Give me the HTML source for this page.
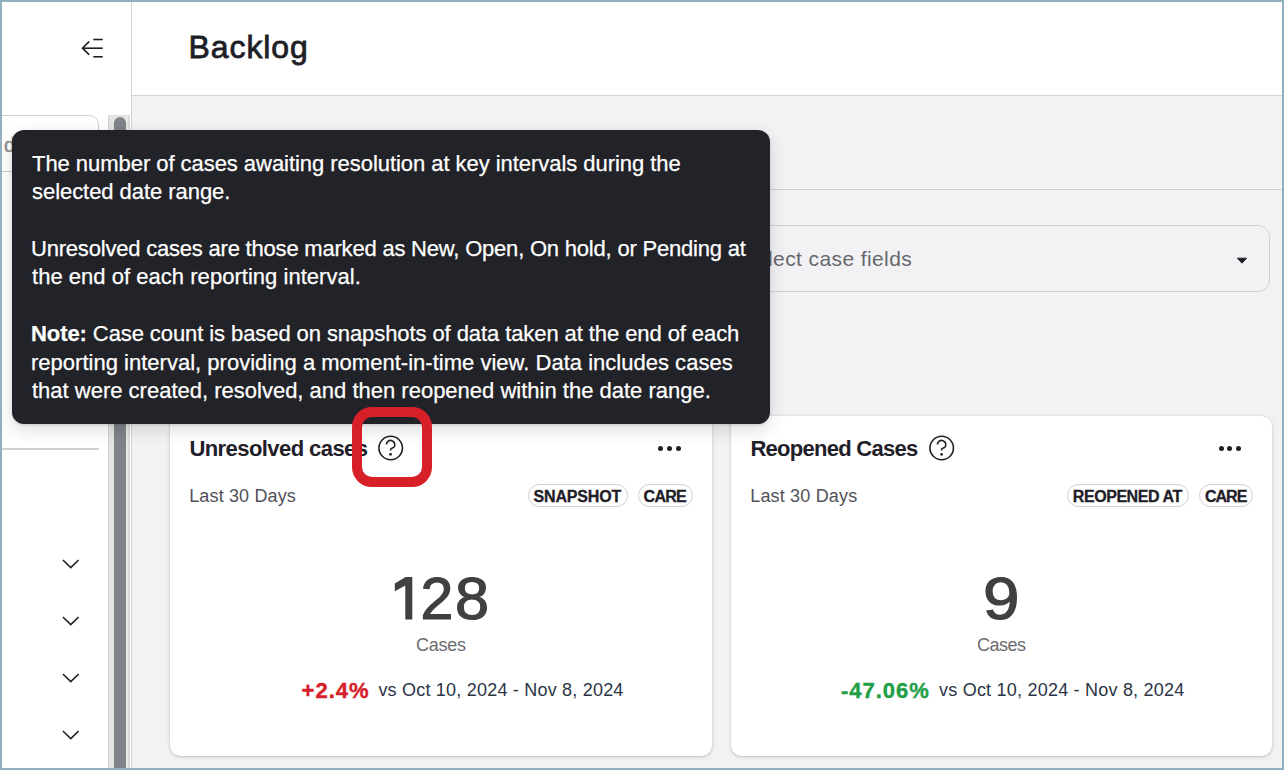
<!DOCTYPE html><html><head><meta charset="utf-8">
<style>
*{margin:0;padding:0;box-sizing:border-box}
html,body{width:1284px;height:770px;overflow:hidden;background:#fff}
body{font-family:"Liberation Sans",sans-serif;position:relative}
.abs{position:absolute}
.frame{position:absolute;left:0;top:0;width:1284px;height:770px;border:2px solid #92afbf;z-index:50;pointer-events:none}
.sidebar{left:2px;top:2px;width:129px;height:766px;background:#fff}
.sbborder{left:131px;top:2px;width:1px;height:766px;background:#d2d2d2}
.header{left:132px;top:2px;width:1150px;height:93px;background:#fff}
.hborder{left:132px;top:95px;width:1150px;height:1px;background:#d4d4d6}
.content{left:132px;top:96px;width:1150px;height:672px;background:#f2f2f4}
.title{left:189px;top:26.5px;font-size:32px;color:#1e1f26;white-space:nowrap;line-height:40px;-webkit-text-stroke:0.8px #1e1f26}
.tabline{left:132px;top:189px;width:1150px;height:1px;background:#cdcdcf}
.select{left:600px;top:225px;width:670px;height:67px;border:1px solid #d0d0d2;border-radius:12px;background:#f2f2f4}
.selecttext{left:741.5px;top:246px;font-size:21px;color:#66676c;white-space:nowrap;line-height:26px;letter-spacing:0.4px}
.card{top:416px;width:541.5px;height:340px;background:#fff;border-radius:10px;box-shadow:0 0 1px rgba(0,0,0,.18),0 1px 2px rgba(0,0,0,.1),0 1px 5px rgba(0,0,0,.1)}
.ctitle{font-size:22px;font-weight:bold;color:#1f2027;white-space:nowrap;line-height:24px}
.sub{font-size:18px;color:#505159;white-space:nowrap;line-height:22px}
.tag{height:23px;border:1px solid #cfcfd2;border-radius:12px}
.tagt{font-size:16px;font-weight:bold;color:#1f2027;line-height:20px;white-space:nowrap;-webkit-text-stroke:0.3px #1f2027}
.big{font-size:59px;color:#404040;white-space:nowrap;line-height:60px;-webkit-text-stroke:1.2px #404040}
.cases{font-size:18px;color:#6b6b6e;white-space:nowrap;line-height:20px}
.pct{font-size:22px;font-weight:bold;white-space:nowrap;line-height:22px;-webkit-text-stroke:0.4px currentColor}
.vs{font-size:18px;color:#2b3445;white-space:nowrap;line-height:22px}
.dot{width:5px;height:5px;border-radius:50%;background:#1f2027}
.tooltip{left:12px;top:130px;width:758px;height:294px;background:#222328;border-radius:12px;box-shadow:0 1px 3px rgba(0,0,0,.12),0 6px 18px rgba(0,0,0,.13);z-index:10}
.tl{position:absolute;left:19px;font-size:22px;color:#fff;white-space:nowrap;line-height:28px;-webkit-text-stroke:0.25px #fff}
.chev{left:61.5px;width:17.5px;height:10px}
</style></head><body>
<div class="abs sidebar"></div>
<div class="abs sbborder"></div>
<div class="abs header"></div>
<div class="abs hborder"></div>
<div class="abs content"></div>

<!-- sidebar collapse icon -->
<svg class="abs" style="left:78px;top:36px" width="28" height="24" viewBox="78 36 28 24">
 <g stroke="#1e1f26" stroke-width="1.6" fill="none" stroke-linecap="round" stroke-linejoin="round">
  <path d="M93.3 39.5H102.7" stroke-linecap="butt"></path><path d="M82.5 48.2H102.7" stroke-linecap="butt"></path><path d="M93.3 56.8H102.7" stroke-linecap="butt"></path>
  <path d="M88.8 41.9L82.4 48.2L88.8 54.3"></path>
 </g>
</svg>

<div class="abs title" id="bk" style="letter-spacing: 0.903px; left: 188.6px;">Backlog</div>

<!-- sidebar bits -->
<div class="abs" style="left:-20px;top:115px;width:119px;height:57px;border:1px solid #d0d0d3;border-radius:10px;background:#fff"></div>
<div class="abs" style="left:4px;top:132.5px;font-size:20px;color:#8c8c8c;line-height:24px;-webkit-text-stroke:0.4px #8c8c8c">d</div>
<div class="abs" style="left:2px;top:448px;width:97px;height:2px;background:#d0d0d3"></div>
<!-- scrollbar -->
<div class="abs" style="left:108px;top:115px;width:22px;height:653px;background:#e4e4e4;border-left:1px solid #d2d2d2"></div><div class="abs" style="left:126px;top:115px;width:1px;height:653px;background:#ededed"></div><div class="abs" style="left:128px;top:115px;width:2px;height:653px;background:#dcdcdc"></div>
<div class="abs" style="left:130px;top:115px;width:1px;height:653px;background:#ffffff"></div>
<div class="abs" style="left:114px;top:117px;width:12px;height:660px;background:#7f838a;border-radius:6px"></div>

<svg class="abs chev" style="top:559px" viewBox="0 0 17.5 10"><path d="M0.9 1L8.75 8.6L16.6 1" stroke="#222" stroke-width="1.6" fill="none"></path></svg>
<svg class="abs chev" style="top:616px" viewBox="0 0 17.5 10"><path d="M0.9 1L8.75 8.6L16.6 1" stroke="#222" stroke-width="1.6" fill="none"></path></svg>
<svg class="abs chev" style="top:673px" viewBox="0 0 17.5 10"><path d="M0.9 1L8.75 8.6L16.6 1" stroke="#222" stroke-width="1.6" fill="none"></path></svg>
<svg class="abs chev" style="top:730px" viewBox="0 0 17.5 10"><path d="M0.9 1L8.75 8.6L16.6 1" stroke="#222" stroke-width="1.6" fill="none"></path></svg>

<div class="abs tabline"></div>
<div class="abs select"></div>
<div class="abs selecttext">Select case fields</div>
<svg class="abs" style="left:1236px;top:256.5px" width="12" height="8" viewBox="0 0 12 8"><path d="M1.4 1.2H10.6L6 6.2Z" fill="#1f2027" stroke="#1f2027" stroke-width="1" stroke-linejoin="round"></path></svg>

<!-- card 1 -->
<div class="abs card" style="left:170px"></div>
<div class="abs ctitle" id="t1" style="left: 189.4px; top: 437px; letter-spacing: -0.57px;">Unresolved cases</div>
<svg class="abs" style="left:378px;top:435px" width="26" height="26" viewBox="0 0 26 26"><circle cx="12.7" cy="13" r="11.75" stroke="#1f2027" stroke-width="1.6" fill="none"></circle><path d="M8.4 9.6A4.2 4.2 0 1 1 15.8 12.3C15 13.1 12.6 13.4 12.6 14.4V15.4" stroke="#1f2027" stroke-width="1.6" fill="none"></path><circle cx="12.6" cy="19.3" r="1.35" fill="#1f2027"></circle></svg>
<div class="abs dot" style="left:657.7px;top:445.5px"></div>
<div class="abs dot" style="left:666.6px;top:445.5px"></div>
<div class="abs dot" style="left:675.5px;top:445.5px"></div>
<div class="abs sub" id="s1" style="left: 189.2px; top: 485px; letter-spacing: 0.146px;">Last 30 Days</div>
<div class="abs tag" style="left:528px;top:484px;width:100px"></div><div class="abs tagt" id="g1" style="left: 533.6px; top: 487px; letter-spacing: -0.169px;">SNAPSHOT</div>
<div class="abs tag" style="left:638px;top:484px;width:55px"></div><div class="abs tagt" id="g2" style="left: 643.6px; top: 487px; letter-spacing: -0.735px;">CARE</div>
<svg class="abs" style="left:390px;top:570px" width="30" height="55" viewBox="390 570 30 55"><path d="M405.6 577H412.3V619.4H405.3V585.6L394.8 591.2V583.6Z" fill="#404040"></path></svg><div class="abs big" id="b1a" style="left: 420.5px; top: 568.5px;">2</div><div class="abs big" id="b1b" style="left: 455px; top: 568.5px; transform: scaleX(1.04); transform-origin: 0 0;">8</div>
<div class="abs cases" id="c1" style="left: 416px; top: 635px; letter-spacing: -0.25px;">Cases</div>
<div class="abs pct" id="p1" style="left: 301.6px; top: 680px; color: rgb(214, 31, 42); letter-spacing: 1px;">+2.4%</div>
<div class="abs vs" id="v1" style="left: 378.4px; top: 679px; letter-spacing: 0.209px;">vs Oct 10, 2024 - Nov 8, 2024</div>

<!-- card 2 -->
<div class="abs card" style="left:730.5px"></div>
<div class="abs ctitle" id="t2" style="left: 750.4px; top: 437px; letter-spacing: -0.726px;">Reopened Cases</div>
<svg class="abs" style="left:929px;top:435px" width="26" height="26" viewBox="0 0 26 26"><circle cx="12.7" cy="13" r="11.75" stroke="#1f2027" stroke-width="1.6" fill="none"></circle><path d="M8.4 9.6A4.2 4.2 0 1 1 15.8 12.3C15 13.1 12.6 13.4 12.6 14.4V15.4" stroke="#1f2027" stroke-width="1.6" fill="none"></path><circle cx="12.6" cy="19.3" r="1.35" fill="#1f2027"></circle></svg>
<div class="abs dot" style="left:1218.6px;top:445.5px"></div>
<div class="abs dot" style="left:1227.3px;top:445.5px"></div>
<div class="abs dot" style="left:1236.1px;top:445.5px"></div>
<div class="abs sub" id="s2" style="left: 750.2px; top: 485px; letter-spacing: 0.182px;">Last 30 Days</div>
<div class="abs tag" style="left:1067px;top:484px;width:122px"></div><div class="abs tagt" id="g3" style="left: 1072.8px; top: 487px; letter-spacing: -0.44px;">REOPENED AT</div>
<div class="abs tag" style="left:1199px;top:484px;width:54px"></div><div class="abs tagt" id="g4" style="left: 1205px; top: 487px; letter-spacing: -1px;">CARE</div>
<div class="abs big" id="b2" style="left: 983.2px; top: 569px; transform: scaleX(1.11); transform-origin: 0 0;">9</div>
<div class="abs cases" id="c2" style="left: 977px; top: 635px; letter-spacing: -0.5px;">Cases</div>
<div class="abs pct" id="p2" style="left: 841px; top: 680px; color: rgb(34, 160, 70); letter-spacing: 0.965px;">-47.06%</div>
<div class="abs vs" id="v2" style="left: 939px; top: 679px; letter-spacing: 0.219px;">vs Oct 10, 2024 - Nov 8, 2024</div>

<!-- tooltip -->
<div class="abs tooltip">
 <div class="tl" id="l1" style="top: 20px; letter-spacing: -0.046px; left: 20px;">The number of cases awaiting resolution at key intervals during the</div>
 <div class="tl" id="l2" style="top: 48px; letter-spacing: -0.053px; left: 20px;">selected date range.</div>
 <div class="tl" id="l3" style="top: 105px; letter-spacing: -0.203px; left: 19px;">Unresolved cases are those marked as New, Open, On hold, or Pending at</div>
 <div class="tl" id="l4" style="top: 133px; letter-spacing: 0.029px; left: 20px;">the end of each reporting interval.</div>
 <div class="tl" id="l5" style="top: 190px; letter-spacing: -0.085px; left: 19px;"><b>Note:</b> Case count is based on snapshots of data taken at the end of each</div>
 <div class="tl" id="l6" style="top: 218.5px; letter-spacing: 0.014px; left: 19px;">reporting interval, providing a moment-in-time view. Data includes cases</div>
 <div class="tl" id="l7" style="top: 247px; letter-spacing: 0px; left: 20px;">that were created, resolved, and then reopened within the date range.</div>
</div>

<!-- red highlight box -->
<div class="abs" style="left:352px;top:407px;width:80px;height:80px;border:10px solid #d61f26;border-radius:20px;z-index:20"></div>

<div class="frame"></div>

</body></html>
